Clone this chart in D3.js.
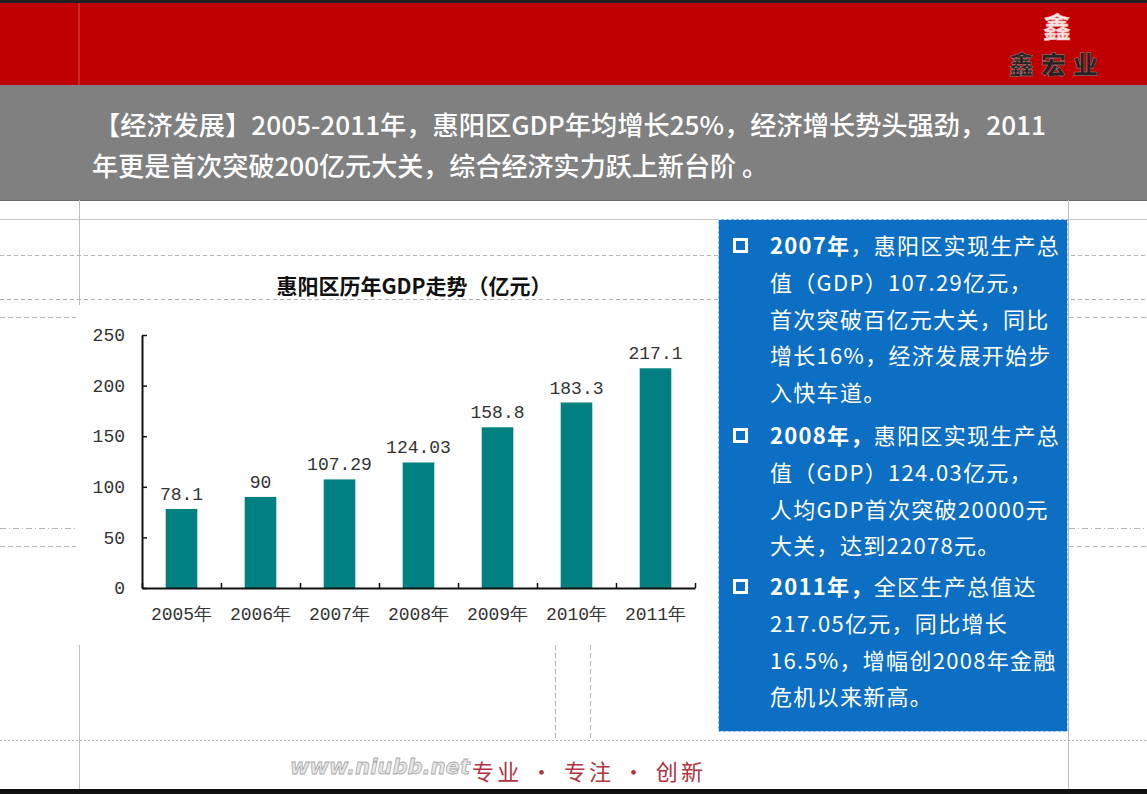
<!DOCTYPE html>
<html><head><meta charset="utf-8">
<script src="https://cdn.jsdelivr.net/npm/d3@7"></script>
<style>body{margin:0;background:#fff;overflow:hidden} svg{display:block}</style>
</head><body><svg id="c" width="1147" height="794"></svg>
<script>
// ---- data ----
const years = ["2005年","2006年","2007年","2008年","2009年","2010年","2011年"];
const gdp = [78.1, 90, 107.29, 124.03, 158.8, 183.3, 217.1];
const valueLabels = ["78.1","90","107.29","124.03","158.8","183.3","217.1"];
const yTicks = [0, 50, 100, 150, 200, 250];
const chartTitle = "惠阳区历年GDP走势（亿元）";
const headline = ["【经济发展】2005-2011年，惠阳区GDP年均增长25%，经济增长势头强劲，2011",
                  "年更是首次突破200亿元大关，综合经济实力跃上新台阶 。"];
const noteLeads = ["2007年", "2008年，", "2011年，"];
const noteLines = [
  ["，惠阳区实现生产总", "值（GDP）107.29亿元，", "首次突破百亿元大关，同比", "增长16%，经济发展开始步", "入快车道。"],
  ["惠阳区实现生产总", "值（GDP）124.03亿元，", "人均GDP首次突破20000元", "大关，达到22078元。"],
  ["全区生产总值达", "217.05亿元，同比增长", "16.5%，增幅创2008年金融", "危机以来新高。"]
];
const footerMotto = "专业 · 专注 · 创新";
const watermark = "www.niubb.net";
const logoMark = "鑫";
const logoName = "鑫宏业";

// ---- drawing ----
const svg = d3.select("#c");
const CJK = "'Noto Sans CJK SC','Noto Sans',sans-serif";

svg.append("rect").attr("width",1147).attr("height",794).attr("fill","#fff");
// top banner
svg.append("rect").attr("x",0).attr("y",0).attr("width",1147).attr("height",3).attr("fill","#222");
svg.append("rect").attr("x",0).attr("y",3).attr("width",1147).attr("height",82).attr("fill","#c00000");
svg.append("line").attr("x1",79).attr("x2",79).attr("y1",3).attr("y2",85).attr("stroke","#d85050").attr("stroke-width",1);
// logo
svg.append("text").attr("x",1057).attr("y",38).attr("text-anchor","middle")
  .attr("font-family",CJK).attr("font-weight",700).attr("font-size",28)
  .attr("fill","#f4e8e8").attr("stroke","#ffb0b0").attr("stroke-width",0.6).text(logoMark);
svg.append("text").attr("x",1057).attr("y",74).attr("text-anchor","middle")
  .attr("font-family",CJK).attr("font-weight",900).attr("font-size",25).attr("letter-spacing",7)
  .attr("fill","#2b2020").attr("stroke","#9a8a8a").attr("stroke-width",0.5).text(logoName);
// gray band
svg.append("rect").attr("x",0).attr("y",85).attr("width",1147).attr("height",115).attr("fill","#808080");
svg.append("line").attr("x1",0).attr("x2",1147).attr("y1",200.5).attr("y2",200.5).attr("stroke","#6a6a6a");
const hl = svg.append("g").attr("font-family",CJK).attr("font-weight",500).attr("font-size",26).attr("fill","#fff");
hl.append("text").attr("x",94).attr("y",135).attr("textLength",952).attr("lengthAdjust","spacingAndGlyphs").text(headline[0]);
hl.append("text").attr("x",92).attr("y",176).attr("textLength",676).attr("lengthAdjust","spacingAndGlyphs").text(headline[1]);

// background guide lines
const guide = svg.append("g").attr("stroke","#b4b4b4").attr("stroke-width",1).attr("fill","none");
guide.append("line").attr("x1",0).attr("x2",1147).attr("y1",219.5).attr("y2",219.5).attr("stroke","#c4c4c4");
guide.append("line").attr("x1",79.5).attr("x2",79.5).attr("y1",200).attr("y2",794).attr("stroke","#bdbdbd");
guide.append("line").attr("x1",1068.5).attr("x2",1068.5).attr("y1",200).attr("y2",794).attr("stroke","#bdbdbd");
[[255,"4,3"],[299,"4,3"]].forEach(([y,d])=>{
  guide.append("line").attr("x1",0).attr("x2",1147).attr("y1",y+0.5).attr("y2",y+0.5).attr("stroke-dasharray",d);
});
[[317,"5,3"],[546,"5,3"],[528,"6,3,1,3"]].forEach(([y,d])=>{
  guide.append("line").attr("x1",0).attr("x2",78).attr("y1",y+0.5).attr("y2",y+0.5).attr("stroke-dasharray",d);
  guide.append("line").attr("x1",1069).attr("x2",1147).attr("y1",y+0.5).attr("y2",y+0.5).attr("stroke-dasharray",d);
});
guide.append("line").attr("x1",0).attr("x2",1147).attr("y1",740.5).attr("y2",740.5).attr("stroke-dasharray","2,2");
[555,590].forEach(x=>guide.append("line").attr("x1",x+0.5).attr("x2",x+0.5).attr("y1",645).attr("y2",740).attr("stroke-dasharray","5,3"));

// chart panel
svg.append("rect").attr("x",76).attr("y",305).attr("width",630).attr("height",340).attr("fill","#fff");

svg.append("text").attr("x",414).attr("y",294).attr("text-anchor","middle")
  .attr("font-family",CJK).attr("font-weight",700).attr("font-size",21).attr("fill","#111").text(chartTitle);

const x = d3.scaleBand().domain(years).range([142,695]).paddingInner(0.6).paddingOuter(0.3);
const xb = d3.scaleLinear().domain([0, years.length]).range([142,695]);
const y = d3.scaleLinear().domain([0,250]).range([588,335]);
const MONO = "'Liberation Mono','DejaVu Sans Mono',monospace";

svg.append("g").selectAll("rect").data(gdp).join("rect")
  .attr("x",(d,i)=>x(years[i])).attr("width",x.bandwidth())
  .attr("y",d=>y(d)).attr("height",d=>y(0)-y(d)).attr("fill","#008080");

svg.append("g").selectAll("text").data(gdp).join("text")
  .attr("x",(d,i)=>x(years[i])+x.bandwidth()/2).attr("y",d=>y(d)-9)
  .attr("text-anchor","middle").attr("font-family",MONO).attr("font-size",18).attr("fill","#333")
  .text((d,i)=>valueLabels[i]);

const ya = svg.append("g").attr("transform","translate(142,0)")
  .call(d3.axisLeft(y).tickValues(yTicks).tickSize(-5).tickSizeOuter(0).tickPadding(17));
ya.select(".domain").attr("stroke","#111").attr("stroke-width",2);
ya.selectAll(".tick line").attr("stroke","#111").attr("stroke-width",1.5);
ya.selectAll("text").attr("font-family",MONO).attr("font-size",18).attr("fill","#333");

const xt = svg.append("g").attr("transform","translate(0,588)")
  .call(d3.axisBottom(xb).ticks(years.length).tickSize(-5).tickSizeOuter(0).tickFormat(""));
xt.select(".domain").attr("stroke","#111").attr("stroke-width",2);
xt.selectAll(".tick line").attr("stroke","#111").attr("stroke-width",1.5);

const xa = svg.append("g").attr("transform","translate(0,588)")
  .call(d3.axisBottom(x).tickSize(0).tickPadding(19));
xa.select(".domain").remove();
xa.selectAll("text").attr("font-family",MONO).attr("font-size",18).attr("fill","#333");

// blue note box
svg.append("rect").attr("x",718.5).attr("y",219.5).attr("width",349).attr("height",512)
  .attr("fill","#0d6fc4").attr("stroke","#d6e8f8").attr("stroke-width",1).attr("stroke-dasharray","3,2");
const lineStarts = [246, 436, 587];
const LH = 36.8;
const nb = svg.append("g").attr("font-family",CJK).attr("font-size",22).attr("letter-spacing",1.3).attr("fill","#fff");
noteLines.forEach((lines,k)=>{
  const y0 = lineStarts[k];
  nb.append("rect").attr("x",734.5).attr("y",y0-6.5).attr("width",12).attr("height",12)
    .attr("fill","none").attr("stroke","#fff").attr("stroke-width",3);
  lines.forEach((ln,j)=>{
    const t = nb.append("text").attr("x",770).attr("y",y0 + j*LH + 8);
    if(j===0){
      t.append("tspan").attr("font-weight",700).text(noteLeads[k]);
      t.append("tspan").text(ln);
    } else t.text(ln);
  });
});

// footer
svg.append("text").attr("x",290).attr("y",774).attr("font-family","'DejaVu Sans',sans-serif")
  .attr("font-style","italic").attr("font-weight",700).attr("font-size",22)
  .attr("textLength",180).attr("lengthAdjust","spacingAndGlyphs")
  .attr("fill","#e6e6e6").attr("stroke","#a8a8a8").attr("stroke-width",0.8).text(watermark);
svg.append("text").attr("x",472).attr("y",780).attr("font-family",CJK).attr("font-size",22)
  .attr("textLength",231).attr("lengthAdjust","spacing")
  .attr("fill","#b2323f").text(footerMotto);
svg.append("rect").attr("x",0).attr("y",789).attr("width",1147).attr("height",5).attr("fill","#111");
</script></body></html>
